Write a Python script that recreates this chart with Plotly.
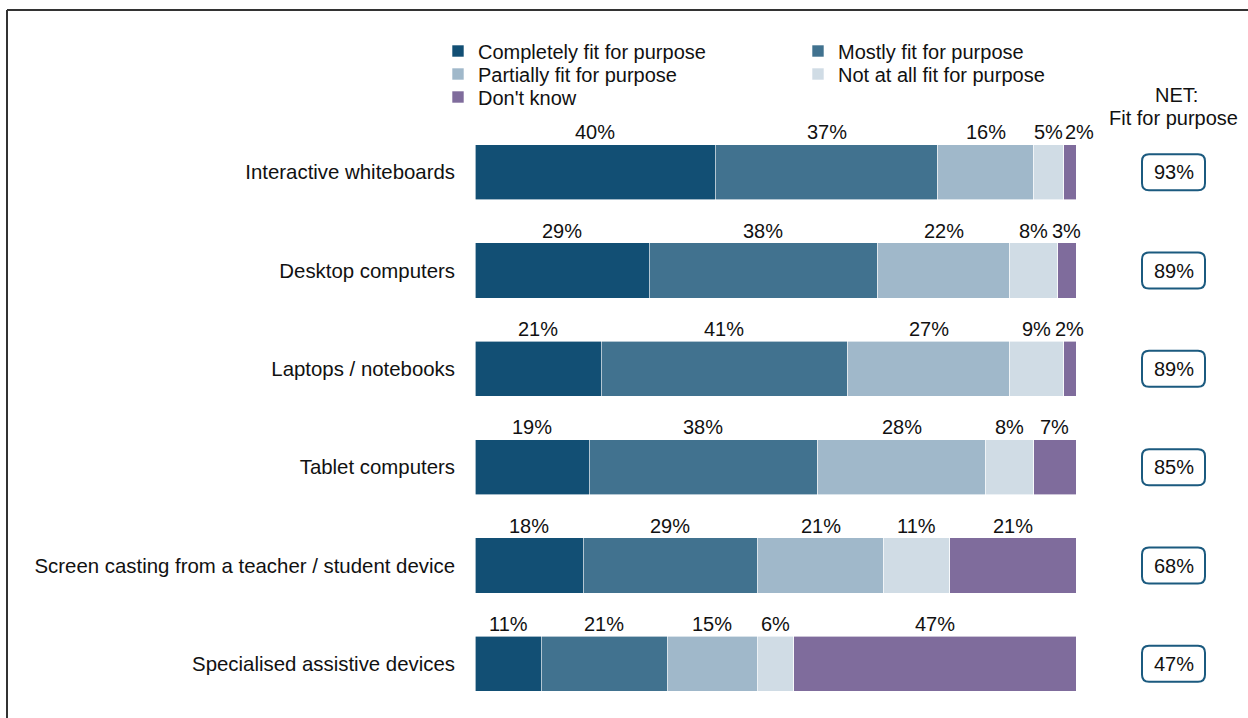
import plotly.graph_objects as go

# Survey results: how fit for purpose each technology is (% of respondents)
categories = [
    "Interactive whiteboards",
    "Desktop computers",
    "Laptops / notebooks",
    "Tablet computers",
    "Screen casting from a teacher / student device",
    "Specialised assistive devices",
]
completely = [40, 29, 21, 19, 18, 11]
mostly = [37, 38, 41, 38, 29, 21]
partially = [16, 22, 27, 28, 21, 15]
not_at_all = [5, 8, 9, 8, 11, 6]
dont_know = [2, 3, 2, 7, 21, 47]

series_names = [
    "Completely fit for purpose",
    "Mostly fit for purpose",
    "Partially fit for purpose",
    "Not at all fit for purpose",
    "Don't know",
]
series_values = [completely, mostly, partially, not_at_all, dont_know]
series_colors = ["#124f74", "#41728f", "#a0b8ca", "#d0dce5", "#7f6c9c"]
# legend rows: two entries per row
series_legend = ["legend", "legend", "legend2", "legend2", "legend3"]

# NET fit for purpose = completely + mostly + partially
net_fit = [c + m + p for c, m, p in zip(completely, mostly, partially)]

W, H = 1248, 718
L, R, T, B = 465, 2, 123, 5
plot_w = W - L - R
plot_h = H - T - B
bar_x0, bar_x1 = 475, 1076          # pixel span of a full (100%) bar
px_per_unit = (bar_x1 - bar_x0) / 100.0
x_lo = -(bar_x0 - L) / px_per_unit
x_hi = (W - R - bar_x0) / px_per_unit

FONT = "Liberation Sans, Arial, sans-serif"
TXT = "#111111"
FS = 20

y_pos = list(range(len(categories)))

fig = go.Figure()
for name, vals, col, lg in zip(series_names, series_values, series_colors, series_legend):
    fig.add_trace(go.Bar(
        name=name, x=vals, y=y_pos, orientation="h", legend=lg,
        marker=dict(color=col, line=dict(color="white", width=0.6)),
        hoverinfo="x+name",
    ))

# Value labels above each segment; nudge right if a label would collide with the previous one
annotations = []
for i in range(len(categories)):
    left = 0.0
    prev_right_px = -1e9
    for vals in series_values:
        v = vals[i]
        label = f"{v}%"
        center_px = bar_x0 + (left + v / 2.0) * px_per_unit
        half_w = (11.1 * (len(label) - 1) + 17.8) / 2.0
        if center_px - half_w < prev_right_px + 2:
            center_px = prev_right_px + 2 + half_w
        prev_right_px = center_px + half_w
        annotations.append(dict(
            x=(center_px - bar_x0) / px_per_unit, y=i, xref="x", yref="y",
            text=label, showarrow=False, yshift=40,
            font=dict(family=FONT, size=FS, color=TXT),
        ))
        left += v

# NET column
net_x = (1173.5 - bar_x0) / px_per_unit
shapes = []
hw, hh, r = 31.5, 18, 7
box_path = (
    f"M{-hw + r},{-hh} L{hw - r},{-hh} Q{hw},{-hh} {hw},{-hh + r} "
    f"L{hw},{hh - r} Q{hw},{hh} {hw - r},{hh} L{-hw + r},{hh} "
    f"Q{-hw},{hh} {-hw},{hh - r} L{-hw},{-hh + r} Q{-hw},{-hh} {-hw + r},{-hh} Z"
)
for i, n in enumerate(net_fit):
    shapes.append(dict(
        type="path", xref="x", yref="y", xsizemode="pixel", ysizemode="pixel",
        xanchor=net_x, yanchor=i, path=box_path,
        line=dict(color="#1b5a7f", width=2), fillcolor="white", layer="below",
    ))
    annotations.append(dict(
        x=net_x, y=i, xref="x", yref="y", text=f"{n}%", showarrow=False,
        font=dict(family=FONT, size=FS, color=TXT),
    ))


def py(p):
    return (H - B - p) / plot_h


def px(p):
    return (p - L) / plot_w


for txt, xpix, ypix in (("NET:", 1176, 95), ("Fit for purpose", 1173, 118)):
    annotations.append(dict(
        x=(xpix - bar_x0) / px_per_unit, xref="x", y=py(ypix), yref="paper",
        yanchor="middle", text=txt, showarrow=False,
        font=dict(family=FONT, size=FS, color=TXT),
    ))

# Outer frame (top and left edges)
frame_col = "#333333"
shapes.append(dict(type="line", xref="paper", yref="paper",
                   x0=px(7), x1=px(W + 5), y0=py(10), y1=py(10),
                   line=dict(color=frame_col, width=2)))
shapes.append(dict(type="line", xref="paper", yref="paper",
                   x0=px(7), x1=px(7), y0=py(10), y1=py(H + 5),
                   line=dict(color=frame_col, width=2)))


def legend_row(ypix):
    return dict(
        orientation="h", xref="container", yref="container",
        x=438 / W, xanchor="left", y=1 - ypix / H, yanchor="middle",
        entrywidth=315, entrywidthmode="pixels", traceorder="normal",
        font=dict(family=FONT, size=FS, color=TXT),
        bgcolor="rgba(0,0,0,0)", itemclick=False, itemdoubleclick=False,
    )


fig.update_layout(
    width=W, height=H,
    margin=dict(l=L, r=R, t=T, b=B, autoexpand=False),
    barmode="stack", bargap=0.44,
    plot_bgcolor="white", paper_bgcolor="white",
    font=dict(family=FONT, size=FS, color=TXT),
    showlegend=True,
    legend=legend_row(51),
    legend2=legend_row(74),
    legend3=legend_row(97),
    xaxis=dict(range=[x_lo, x_hi], visible=False, fixedrange=True),
    yaxis=dict(
        range=[len(categories) - 0.5, -0.5], tickmode="array",
        tickvals=y_pos, ticktext=categories, showgrid=False, zeroline=False,
        showline=False, ticks="", ticklabelstandoff=9, fixedrange=True,
        tickfont=dict(family=FONT, size=20.4, color=TXT),
    ),
    annotations=annotations,
    shapes=shapes,
)

fig.write_html("out.html")
